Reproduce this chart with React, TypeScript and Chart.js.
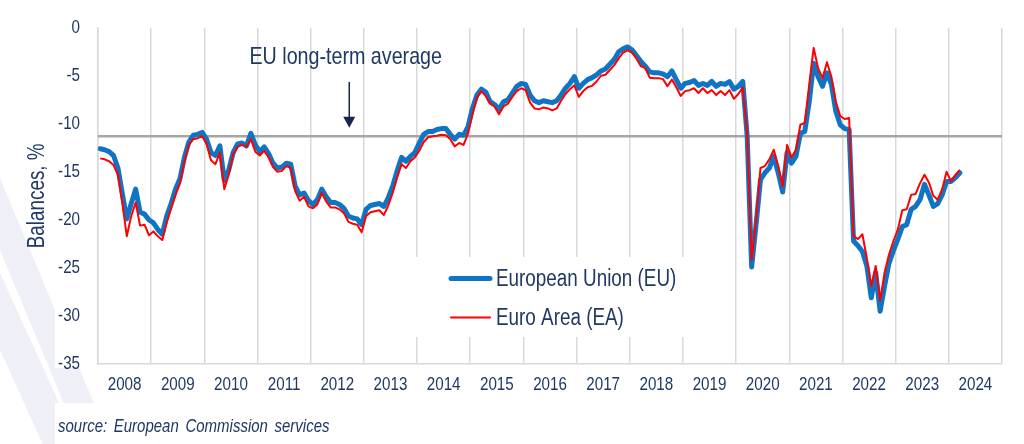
import React, { useEffect, useRef } from 'react';
import { Chart, registerables } from 'chart.js';

Chart.register(...registerables);

// ---------- data ----------
const startYear = 2008;
const yearLabels = ['2008', '2009', '2010', '2011', '2012', '2013', '2014', '2015', '2016', '2017', '2018', '2019', '2020', '2021', '2022', '2023', '2024'];

// monthly balances, Jan 2008 .. Mar 2024
const euValues = [
  -12.6, -12.7, -12.9, -13.3, -14.6, -17.3, -19.9, -18.3, -16.8, -19.2, -19.4, -20.0,
  -20.3, -21.0, -21.5, -19.6, -18.3, -16.8, -15.7, -13.5, -11.9, -11.2, -11.1, -10.9,
  -11.6, -13.0, -13.3, -12.3, -15.9, -14.8, -13.0, -12.1, -12.0, -12.3, -11.0, -12.2,
  -12.9, -12.4, -13.1, -14.1, -14.6, -14.5, -14.1, -14.2, -16.5, -17.4, -17.2, -18.0,
  -18.4, -17.9, -16.8, -17.6, -18.2, -18.2, -18.4, -18.8, -19.6, -19.8, -19.9, -20.5,
  -18.9, -18.5, -18.4, -18.3, -18.6, -17.7, -16.5, -14.9, -13.5, -13.9, -13.4, -13.0,
  -12.0, -11.1, -10.8, -10.8, -10.6, -10.5, -10.5, -11.1, -11.6, -11.1, -11.2, -10.3,
  -8.4, -7.0, -6.4, -6.7, -7.7, -8.0, -8.5, -7.7, -7.5, -6.8, -6.1, -5.8,
  -5.9, -7.0, -7.6, -7.8, -7.6, -7.7, -7.8, -7.6, -7.0, -6.3, -5.8, -5.1,
  -6.3, -5.8, -5.4, -5.2, -4.9, -4.5, -4.3, -3.8, -3.3, -2.5, -2.2, -2.0,
  -2.3, -2.9, -3.5, -4.0, -4.6, -4.7, -4.7, -4.8, -5.1, -4.5, -5.4, -6.3,
  -5.8, -5.7, -5.5, -6.0, -5.8, -6.0, -5.6, -6.1, -5.8, -5.9, -5.6, -6.4,
  -6.1, -5.6, -11.3, -24.9, -20.5, -15.8, -15.1, -14.6, -13.4, -15.1, -17.1, -13.0,
  -14.1, -13.4, -11.0, -10.8, -7.7, -3.7, -5.1, -6.1, -4.7, -5.9, -8.7, -10.1,
  -10.5, -10.6, -22.2, -22.7, -23.3, -24.8, -28.1, -25.5, -29.5, -26.9, -24.5, -23.2,
  -22.0, -20.7, -20.5, -18.9, -18.6, -17.9, -16.3, -17.4, -18.6, -18.3, -17.4, -16.0,
  -16.0, -15.6, -15.1,
];

const eaValues = [
  -13.6, -13.7, -13.9, -14.3, -15.3, -18.3, -21.7, -19.6, -18.2, -20.6, -20.5, -21.6,
  -21.2, -21.7, -22.1, -20.3, -18.8, -17.4, -16.2, -13.9, -12.2, -11.6, -11.5, -11.3,
  -12.1, -13.8, -14.2, -13.0, -16.8, -15.3, -13.2, -12.4, -12.2, -12.4, -11.6, -12.9,
  -13.3, -12.8, -13.5, -14.5, -15.0, -14.9, -14.4, -14.6, -17.0, -18.0, -17.6, -18.6,
  -18.8, -18.4, -17.2, -18.1, -18.7, -18.7, -18.9, -19.3, -20.2, -20.4, -20.5, -21.3,
  -19.6, -19.2, -19.1, -19.0, -19.5, -18.5, -17.2, -15.6, -14.2, -14.6, -13.9, -13.5,
  -12.8, -11.9, -11.4, -11.3, -11.25, -11.15, -11.2, -11.6, -12.35, -12.0, -12.2, -11.0,
  -9.0, -7.3, -6.6, -7.1, -7.9, -8.2, -9.0, -8.2, -7.9, -7.2, -6.6, -6.3,
  -6.5, -7.8, -8.4, -8.5, -8.3, -8.4, -8.6, -8.4, -7.6, -6.9, -6.4, -6.0,
  -7.2, -6.6, -6.2, -6.05, -5.6, -5.0, -4.9, -4.4, -3.9, -3.2, -2.6, -2.35,
  -2.6, -3.2, -4.0, -4.2, -5.2, -5.25, -5.25, -5.35, -6.1, -5.4, -6.2, -7.1,
  -6.6, -6.5, -6.3, -6.8, -6.3, -6.8, -6.5, -7.0, -6.6, -7.0, -6.5, -7.4,
  -6.9, -6.2, -11.1, -24.2, -20.0, -14.6, -14.4, -13.7, -12.7, -14.4, -16.5, -12.2,
  -13.5, -12.7, -10.1, -9.9, -5.9, -2.1, -4.2, -5.25, -3.6, -5.1, -7.7, -9.2,
  -9.5, -9.4, -21.7, -22.0, -21.5, -24.0, -26.9, -24.8, -28.4, -25.5, -23.6, -22.2,
  -21.0, -19.0, -18.9, -17.4, -17.3, -16.2, -15.3, -16.1, -17.5, -17.9, -16.8, -15.0,
  -16.0, -15.3, -14.8,
];

const euLongTermAverage = -11.3;
const yTicks = [0, -5, -10, -15, -20, -25, -30, -35];

const seriesNames = ['European Union (EU)', 'Euro Area (EA)'];
const yTitle = 'Balances, %';
const annotationText = 'EU long-term average';
const sourceText = 'source: European Commission services';

// month categories (index -> label)
const monthLabels = euValues.map((_, i) => `${startYear + Math.floor(i / 12)}-${String((i % 12) + 1).padStart(2, '0')}`);

// ---------- style ----------
const FAMILY = '"Liberation Sans", Arial, sans-serif';
const SQUEEZE = 0.82; // narrow typeface look
const NAVY = '#1f3864';
const BLUE = '#0f74c4';
const RED = '#ff0000';
const GRID = '#d9d9d9';

const totalMonths = yearLabels.length * 12;

function narrowText(
  ctx: CanvasRenderingContext2D,
  text: string,
  x: number,
  y: number,
  font: string,
  align: CanvasTextAlign,
  baseline: CanvasTextBaseline,
  rotate = 0,
  wordSpacing = '0px',
) {
  ctx.save();
  ctx.translate(x, y);
  if (rotate) ctx.rotate(rotate);
  ctx.scale(SQUEEZE, 1);
  ctx.font = font;
  (ctx as any).wordSpacing = wordSpacing;
  ctx.textAlign = align;
  ctx.textBaseline = baseline;
  ctx.fillStyle = NAVY;
  ctx.fillText(text, 0, 0);
  ctx.restore();
}

const decorPlugin = {
  id: 'decor',
  beforeDraw(chart: any) {
    const ctx = chart.ctx as CanvasRenderingContext2D;
    const h = chart.height;
    ctx.save();
    ctx.fillStyle = '#ffffff';
    ctx.fillRect(0, 0, chart.width, h);
    ctx.beginPath();
    ctx.rect(0, 0, 55, h);
    ctx.rect(55, 368, 42, 35);
    ctx.clip();
    ctx.fillStyle = '#efeff7';
    const band = (y0: number, slope: number, w: number) => {
      ctx.beginPath();
      ctx.moveTo(-y0 / slope, 0);
      ctx.lineTo(-y0 / slope + w, 0);
      ctx.lineTo((h - y0) / slope + w, h);
      ctx.lineTo((h - y0) / slope, h);
      ctx.closePath();
      ctx.fill();
    };
    band(250, 2.4, 30);
    band(350, 2.2, 35);
    ctx.restore();
  },
  afterDatasetsDraw(chart: any) {
    const ctx = chart.ctx as CanvasRenderingContext2D;
    const xs = chart.scales.x;
    const ys = chart.scales.y;
    const area = chart.chartArea;
    ctx.save();
    // tick labels
    yTicks.forEach((v) => {
      narrowText(ctx, String(v), area.left - 18, ys.getPixelForValue(v), `18.5px ${FAMILY}`, 'right', 'middle');
    });
    yearLabels.forEach((lab, i) => {
      narrowText(ctx, lab, xs.getPixelForValue(i * 12 + 6), area.bottom + 20.5, `18.5px ${FAMILY}`, 'center', 'middle');
    });
    // axis title
    narrowText(ctx, yTitle, 38, (area.top + area.bottom) / 2, `23px ${FAMILY}`, 'center', 'middle', -Math.PI / 2);

    // legend box
    ctx.fillStyle = '#ffffff';
    ctx.fillRect(405, 257, 285, 80);
    const ds = chart.data.datasets;
    const rows = [
      { y: 278.5, color: ds[0].borderColor, width: ds[0].borderWidth, text: ds[0].label },
      { y: 317.5, color: ds[1].borderColor, width: ds[1].borderWidth, text: ds[1].label },
    ];
    rows.forEach((r) => {
      ctx.strokeStyle = r.color;
      ctx.lineWidth = r.width;
      ctx.lineCap = 'round';
      ctx.beginPath();
      ctx.moveTo(451, r.y);
      ctx.lineTo(490, r.y);
      ctx.stroke();
      narrowText(ctx, r.text, 496, r.y + 1, `23px ${FAMILY}`, 'left', 'middle');
    });
    // annotation
    narrowText(ctx, annotationText, xs.getPixelForValue(55.9), 64, `24px ${FAMILY}`, 'center', 'alphabetic');
    const ax = xs.getPixelForValue(56.7);
    const y1 = ys.getPixelForValue(-5.7);
    const y2 = ys.getPixelForValue(-10.4);
    ctx.strokeStyle = '#17254f';
    ctx.fillStyle = '#17254f';
    ctx.lineWidth = 1.5;
    ctx.beginPath();
    ctx.moveTo(ax, y1);
    ctx.lineTo(ax, y2 - 8);
    ctx.stroke();
    ctx.beginPath();
    ctx.moveTo(ax - 6, y2 - 11);
    ctx.lineTo(ax + 6, y2 - 11);
    ctx.lineTo(ax, y2);
    ctx.closePath();
    ctx.fill();
    ctx.restore();
  },
  afterDraw(chart: any) {
    const ctx = chart.ctx as CanvasRenderingContext2D;
    ctx.save();
    ctx.fillStyle = '#ffffff';
    ctx.fillRect(55, 403, chart.width - 55, chart.height - 403);
    ctx.restore();
    narrowText(ctx, sourceText, 58, 431.5, `italic 18.3px ${FAMILY}`, 'left', 'alphabetic', 0, '3px');
  },
};

export default function App() {
  const ref = useRef<HTMLCanvasElement | null>(null);

  useEffect(() => {
    if (!ref.current) return;
    const euPoints = euValues.map((v, i) => ({ x: i + 0.5, y: v, label: monthLabels[i] }));
    const eaPoints = eaValues.map((v, i) => ({ x: i + 0.5, y: v, label: monthLabels[i] }));
    const avgPoints = [
      { x: 0, y: euLongTermAverage },
      { x: totalMonths, y: euLongTermAverage },
    ];
    const chart = new Chart(ref.current, {
      type: 'line',
      data: {
        datasets: [
          {
            label: seriesNames[0],
            data: euPoints,
            borderColor: BLUE,
            borderWidth: 5,
            borderJoinStyle: 'round',
            borderCapStyle: 'round',
            pointRadius: 0,
            order: 1,
          },
          {
            label: seriesNames[1],
            data: eaPoints,
            borderColor: RED,
            borderWidth: 2,
            borderJoinStyle: 'round',
            pointRadius: 0,
            order: 0,
          },
          {
            label: 'avg',
            data: avgPoints,
            borderColor: '#a6a6a6',
            borderWidth: 2.5,
            pointRadius: 0,
            order: 2,
          },
        ],
      } as any,
      plugins: [decorPlugin],
      options: {
        animation: false,
        responsive: false,
        maintainAspectRatio: false,
        parsing: false,
        layout: { padding: { left: 0, right: 22, top: 27.7, bottom: 0 } },
        plugins: { legend: { display: false }, tooltip: { enabled: false } },
        elements: { line: { tension: 0 }, point: { radius: 0 } },
        scales: {
          x: {
            type: 'linear',
            min: 0,
            max: totalMonths,
            afterBuildTicks: (axis: any) => {
              const t = [];
              for (let v = 0; v <= totalMonths; v += 12) t.push({ value: v });
              axis.ticks = t;
            },
            afterFit: (axis: any) => {
              axis.height = 80;
            },
            ticks: { display: false, autoSkip: false, maxRotation: 0 },
            grid: { drawTicks: false, lineWidth: 1.5, color: GRID },
            border: { display: true, color: GRID, width: 1.5 },
          },
          y: {
            type: 'linear',
            min: -35,
            max: 0,
            afterBuildTicks: (axis: any) => {
              axis.ticks = yTicks.map((v) => ({ value: v }));
            },
            afterFit: (axis: any) => {
              axis.width = 98;
            },
            ticks: { display: false },
            grid: { display: false, drawTicks: false },
            border: { display: true, color: GRID, width: 1.5 },
          },
        },
      } as any,
    });
    return () => chart.destroy();
  }, []);

  return (
    <div style={{ position: 'absolute', left: 0, top: 0, width: 1024, height: 444, background: '#fff' }}>
      <canvas ref={ref} width={1024} height={444} style={{ width: 1024, height: 444, display: 'block' }} />
    </div>
  );
}
